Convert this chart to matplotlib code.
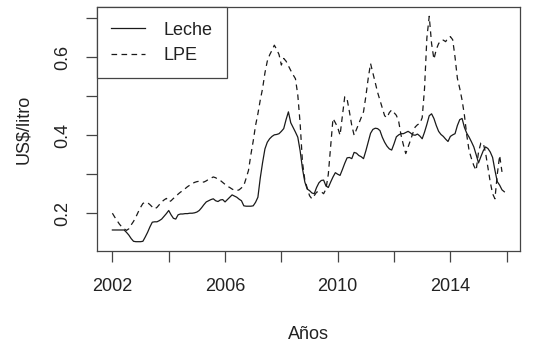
import matplotlib
matplotlib.use("Agg")
import matplotlib.pyplot as plt
import numpy as np

plt.rcParams['font.family'] = ['Liberation Sans', 'DejaVu Sans']

start_year = 2002.0
leche = [
    0.157, 0.157, 0.157, 0.157, 0.157, 0.157, 0.151, 0.144, 0.135, 0.128,
    0.127, 0.127, 0.127, 0.128, 0.139, 0.151, 0.165, 0.177, 0.178, 0.178,
    0.181, 0.185, 0.192, 0.199, 0.207, 0.196, 0.187, 0.185, 0.196, 0.198,
    0.198, 0.199, 0.199, 0.200, 0.200, 0.201, 0.203, 0.207, 0.214, 0.222,
    0.229, 0.232, 0.235, 0.237, 0.232, 0.230, 0.234, 0.235, 0.229, 0.235,
    0.241, 0.247, 0.244, 0.241, 0.236, 0.232, 0.219, 0.218, 0.218, 0.218,
    0.219, 0.228, 0.241, 0.290, 0.330, 0.365, 0.382, 0.391, 0.397, 0.401,
    0.402, 0.404, 0.410, 0.417, 0.440, 0.460, 0.432, 0.420, 0.408, 0.395,
    0.360, 0.314, 0.280, 0.262, 0.258, 0.252, 0.250, 0.266, 0.278, 0.284,
    0.285, 0.270, 0.266, 0.280, 0.293, 0.304, 0.300, 0.297, 0.312, 0.328,
    0.342, 0.343, 0.340, 0.356, 0.354, 0.348, 0.345, 0.340, 0.360, 0.383,
    0.405, 0.415, 0.418, 0.417, 0.412, 0.395, 0.382, 0.372, 0.365, 0.362,
    0.378, 0.396, 0.401, 0.404, 0.404, 0.407, 0.410, 0.406, 0.401, 0.400,
    0.403, 0.398, 0.391, 0.408, 0.428, 0.450, 0.455, 0.443, 0.425, 0.410,
    0.402, 0.397, 0.390, 0.384, 0.397, 0.401, 0.404, 0.425, 0.440, 0.443,
    0.420, 0.405, 0.395, 0.383, 0.370, 0.350, 0.329, 0.345, 0.360, 0.370,
    0.366, 0.357, 0.343, 0.310, 0.281, 0.272, 0.260, 0.255,
]
lpe = [
    0.200, 0.190, 0.181, 0.172, 0.165, 0.160, 0.156, 0.160, 0.170, 0.179,
    0.190, 0.203, 0.215, 0.225, 0.228, 0.227, 0.222, 0.216, 0.211, 0.215,
    0.222, 0.229, 0.234, 0.238, 0.229, 0.232, 0.238, 0.242, 0.249, 0.254,
    0.258, 0.263, 0.268, 0.272, 0.276, 0.279, 0.281, 0.282, 0.280, 0.280,
    0.283, 0.287, 0.290, 0.293, 0.291, 0.287, 0.284, 0.279, 0.274, 0.269,
    0.266, 0.262, 0.259, 0.258, 0.260, 0.265, 0.271, 0.290, 0.310, 0.350,
    0.385, 0.425, 0.455, 0.490, 0.520, 0.560, 0.590, 0.606, 0.618, 0.631,
    0.620, 0.607, 0.580, 0.597, 0.590, 0.578, 0.566, 0.555, 0.545, 0.503,
    0.430, 0.330, 0.285, 0.265, 0.245, 0.237, 0.245, 0.254, 0.256, 0.255,
    0.250, 0.262, 0.300, 0.370, 0.443, 0.432, 0.420, 0.400, 0.450, 0.499,
    0.493, 0.460, 0.425, 0.400, 0.415, 0.430, 0.445, 0.460, 0.500, 0.546,
    0.584, 0.560, 0.535, 0.510, 0.490, 0.470, 0.450, 0.445, 0.458, 0.465,
    0.458, 0.451, 0.435, 0.400, 0.375, 0.353, 0.370, 0.387, 0.405, 0.421,
    0.427, 0.430, 0.445, 0.520, 0.650, 0.705, 0.635, 0.595, 0.620, 0.635,
    0.643, 0.644, 0.640, 0.650, 0.653, 0.645, 0.600, 0.546, 0.520, 0.490,
    0.451, 0.400, 0.360, 0.340, 0.322, 0.310, 0.357, 0.380, 0.380, 0.355,
    0.318, 0.280, 0.250, 0.237, 0.300, 0.348, 0.306,
]
series_labels = ["Leche", "LPE"]
x_ticks = [2002, 2004, 2006, 2008, 2010, 2012, 2014, 2016]
x_ticklabels = ["2002", "", "2006", "", "2010", "", "2014", ""]
y_ticks = [0.2, 0.3, 0.4, 0.5, 0.6, 0.7]
y_ticklabels = ["0.2", "", "0.4", "", "0.6", ""]

t_leche = start_year + np.arange(len(leche)) / 12.0
t_lpe = start_year + np.arange(len(lpe)) / 12.0

fig = plt.figure(figsize=(5.34, 3.48), dpi=100)
ax = fig.add_axes([0.1811, 0.2796, 0.9738 - 0.1811, 0.979 - 0.2796])

linec = "#1a1a1a"
ax.plot(t_leche, leche, color=linec, lw=0.9, label=series_labels[0])
ax.plot(t_lpe, lpe, color=linec, lw=0.9, linestyle=(0, (4.5, 3.5)), label=series_labels[1])

allx = np.concatenate([t_leche, t_lpe])
ally = np.concatenate([leche, lpe])
rx = allx.max() - allx.min()
ry = ally.max() - ally.min()
ax.set_xlim(allx.min() - 0.04 * rx, allx.max() + 0.04 * rx)
ax.set_ylim(ally.min() - 0.04 * ry, ally.max() + 0.04 * ry)

txtc = "#222222"
ax.set_xticks(x_ticks)
ax.set_xticklabels(x_ticklabels)
ax.set_yticks(y_ticks)
ax.set_yticklabels(y_ticklabels, rotation=90, va="center")
ax.tick_params(axis="both", direction="out", length=8, width=0.9, colors="#444444",
               labelcolor=txtc, labelsize=13)
ax.tick_params(axis="x", pad=12)
ax.tick_params(axis="y", pad=10)
for s in ax.spines.values():
    s.set_color("#444444")
    s.set_linewidth(0.9)

ax.set_xlabel("Años", fontsize=13, color=txtc, labelpad=22)
ax.set_ylabel("US$/litro", fontsize=13, color=txtc, labelpad=16)

leg = ax.legend(loc="upper left", borderaxespad=0, fancybox=False, framealpha=1,
                edgecolor="#444444", fontsize=13, handlelength=1.9,
                handletextpad=1.0, borderpad=0.8, labelspacing=0.45)
leg.get_frame().set_linewidth(0.9)
for t in leg.get_texts():
    t.set_color(txtc)

fig.savefig("out.png", dpi=100)
